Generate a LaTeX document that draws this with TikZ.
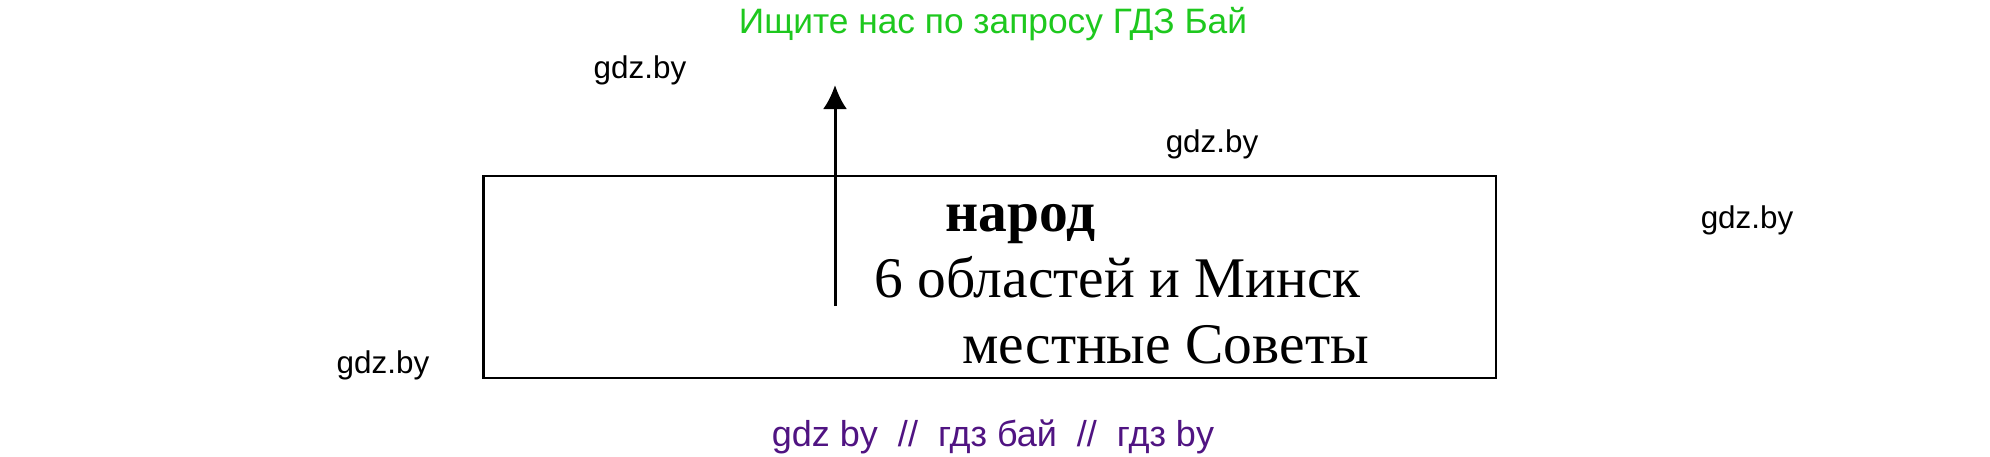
\documentclass[tikz,border=0pt]{standalone}
\usepackage{fontspec}
\setmainfont{Liberation Serif}
\newfontfamily\wmfont{Liberation Sans}
\usetikzlibrary{arrows.meta}

\begin{document}
\begin{tikzpicture}[x=1pt,y=-1pt,
        wm/.style={font=\wmfont\fontsize{31.4}{34}\selectfont,inner sep=0pt,anchor=base},
        txt/.style={anchor=base west,inner sep=0pt,font=\fontsize{57.5}{60}\selectfont}]
    \useasboundingbox (0,0) rectangle (1990,456);
    \draw[line width=2.5pt](483.5,176)rectangle(1496,378);
    \node[txt,font=\bfseries\fontsize{57.5}{60}\selectfont](narod)at(945,231){народ};
    \node[txt](obl)at(874,297){6 областей и Минск};
    \node[txt](sov)at(962,363){местные Советы};
    \coordinate(a)at(835,306);
    \coordinate(b)at(835,85);
    \draw[-{Latex[length=24pt,width=24pt]},line width=3pt](a)--(b);
    % watermarks
    \node[font=\wmfont\fontsize{35.3}{38}\selectfont,text={rgb,255:red,30;green,200;blue,30},inner sep=0pt,anchor=base](top)at(993,33){Ищите нас по запросу ГДЗ Бай};
    \node[wm](w1)at(640,78){gdz.by};
    \node[wm](w2)at(1212,152){gdz.by};
    \node[wm](w3)at(1747,228){gdz.by};
    \node[wm](w4)at(383,373){gdz.by};
    \node[font=\wmfont\fontsize{36}{40}\selectfont,text={rgb,255:red,80;green,20;blue,130},inner sep=0pt,anchor=base](bot)at(993,446){gdz by\ \ //\ \ гдз бай\ \ //\ \ гдз by};
\end{tikzpicture}
\end{document}
